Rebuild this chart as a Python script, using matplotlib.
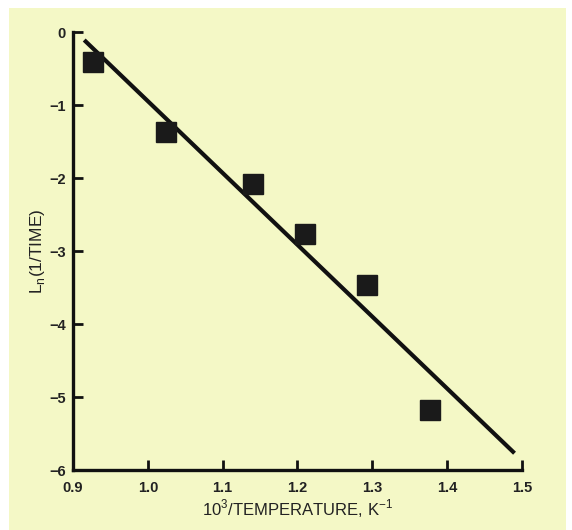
import numpy as np
import matplotlib.pyplot as plt
from matplotlib.patches import Rectangle

# measured points
inv_temp = [0.927, 1.024, 1.141, 1.210, 1.293, 1.377]
ln_rate = [-0.41, -1.37, -2.08, -2.77, -3.47, -5.18]

# fitted line end points
fit_x = [0.915, 1.49]
fit_y = [-0.11, -5.77]

xticks = [0.9, 1.0, 1.1, 1.2, 1.3, 1.4, 1.5]
xtick_labels = ['0.9', '1.0', '1.1', '1.2', '1.3', '1.4', '1.5']
yticks = [0, -1, -2, -3, -4, -5, -6]

bg = '#f4f8c6'

plt.rcParams['font.family'] = ['Liberation Sans', 'DejaVu Sans']
plt.rcParams['mathtext.fontset'] = 'custom'
plt.rcParams['mathtext.rm'] = 'Liberation Sans'

fig = plt.figure(figsize=(5.72, 5.30), dpi=100)
fig.patch.set_facecolor('white')
fig.patches.append(Rectangle((0.015, 0.0), 0.975, 0.985, transform=fig.transFigure,
                             facecolor=bg, edgecolor='none', zorder=-10))

ax = fig.add_axes([0.1276, 0.1132, 0.785, 0.8264])
ax.set_facecolor('none')

ax.plot(fit_x, fit_y, color='#111111', lw=3.0, solid_capstyle='butt', zorder=3)
ax.plot(inv_temp, ln_rate, 's', color='#1a1a1a', markersize=14, zorder=4)

ax.set_xlim(0.9, 1.5)
ax.set_ylim(-6, 0)
ax.set_xticks(xticks)
ax.set_xticklabels(xtick_labels)
ax.set_yticks(yticks)

for s in ['top', 'right']:
    ax.spines[s].set_visible(False)
for s in ['left', 'bottom']:
    ax.spines[s].set_linewidth(2.4)
    ax.spines[s].set_color('#111111')

ax.tick_params(direction='in', length=7, width=2.0, color='#111111',
               labelsize=10.5, labelcolor='#222222', pad=5)
ax.tick_params(axis='x', pad=8)
for lab in ax.get_xticklabels() + ax.get_yticklabels():
    lab.set_fontweight('bold')

ax.set_xlabel(r'10$^{\mathrm{3}}$/TEMPERATURE, K$^{\mathrm{-1}}$', fontsize=12,
              color='#222222', labelpad=2)
ax.set_ylabel(r'L$_{\mathrm{n}}$(1/TIME)', fontsize=12.5, color='#222222', labelpad=2)

plt.savefig('out.png', dpi=100)
